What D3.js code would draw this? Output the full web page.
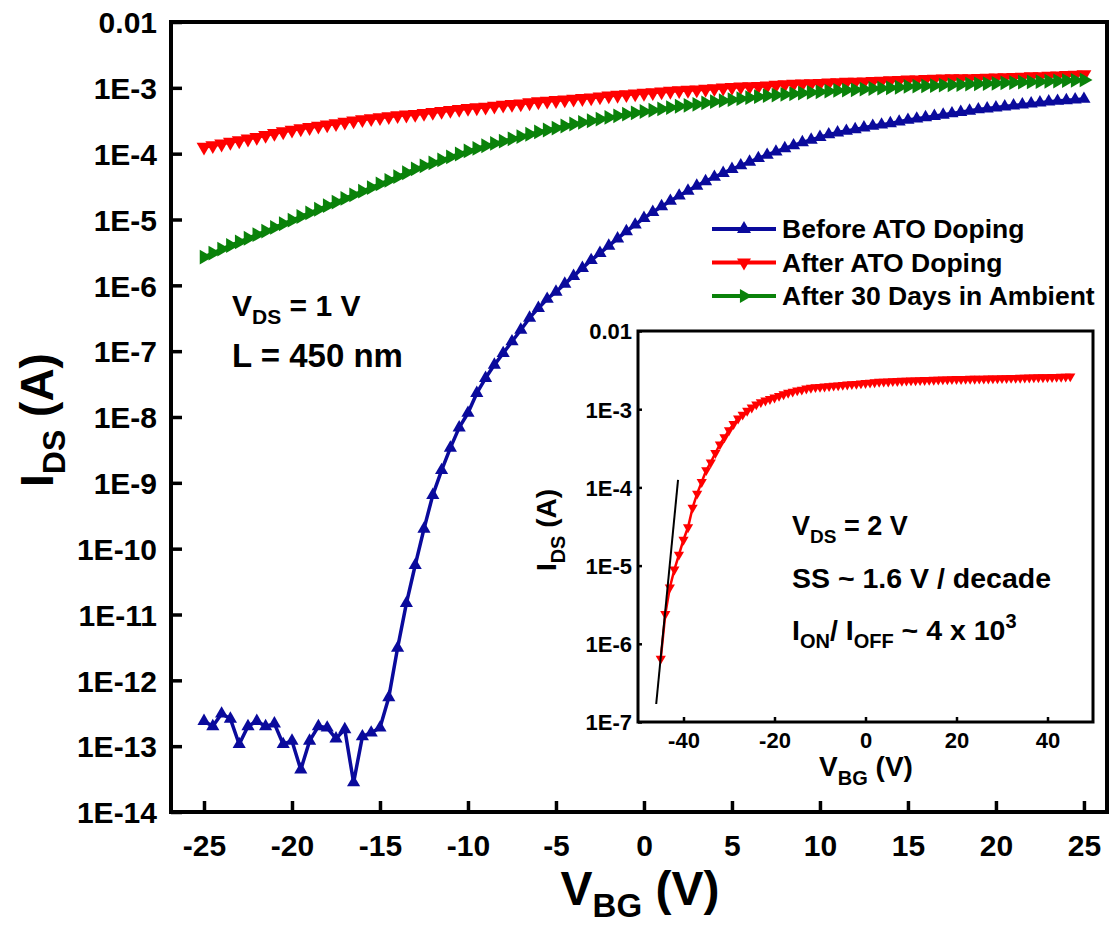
<!DOCTYPE html>
<html>
<head>
<meta charset="utf-8">
<script src="https://cdn.jsdelivr.net/npm/d3@7"></script>
<style>
  body { margin: 0; background: #fff; }
  svg { display: block; }
  text { font-family: "Liberation Sans", Arial, Helvetica, sans-serif; font-weight: bold; fill: #000; }
</style>
</head>
<body>
<svg id="chart" width="1114" height="927"></svg>
<script>
// Transfer curves, V_DS = 1 V, L = 450 nm. Gate sweep -25 V .. 25 V in 0.5 V steps.
const sweepStart = -25;
const sweepStep = 0.5;

// I_DS (A) before ATO doping
const beforeATO = [
  2.4e-13, 2.0e-13, 3.1e-13, 2.6e-13, 1.07e-13, 2.0e-13, 2.4e-13, 2.0e-13, 2.2e-13, 1.07e-13,
  1.2e-13, 4.4e-14, 1.2e-13, 2.0e-13, 1.9e-13, 1.3e-13, 1.8e-13, 2.8e-14, 1.4e-13, 1.6e-13,
  1.9e-13, 5.5e-13, 3.1e-12, 1.48e-11, 5.6e-11, 2.0e-10, 6.5e-10, 1.55e-9, 3.4e-9, 6.9e-9,
  1.15e-8, 2.3e-8, 3.9e-8, 6.2e-8, 9.3e-8, 1.4e-7, 2.1e-7, 3.2e-7, 4.5e-7, 6.2e-7,
  7.94e-7, 1.05e-6, 1.38e-6, 1.82e-6, 2.40e-6, 3.09e-6, 3.98e-6, 5.13e-6, 6.61e-6, 8.32e-6,
  1.05e-5, 1.29e-5, 1.58e-5, 1.91e-5, 2.29e-5, 2.72e-5, 3.24e-5, 3.80e-5, 4.42e-5, 5.07e-5,
  5.82e-5, 6.61e-5, 7.50e-5, 8.51e-5, 9.55e-5, 1.07e-4, 1.20e-4, 1.33e-4, 1.48e-4, 1.62e-4,
  1.78e-4, 1.95e-4, 2.09e-4, 2.21e-4, 2.34e-4, 2.48e-4, 2.63e-4, 2.75e-4, 2.88e-4, 3.05e-4,
  3.24e-4, 3.39e-4, 3.55e-4, 3.72e-4, 3.89e-4, 4.07e-4, 4.27e-4, 4.47e-4, 4.68e-4, 4.84e-4,
  5.01e-4, 5.19e-4, 5.37e-4, 5.56e-4, 5.75e-4, 5.96e-4, 6.17e-4, 6.31e-4, 6.46e-4, 6.61e-4,
  6.76e-4
];

// I_DS (A) after ATO doping
const afterATO = [
  1.26e-4, 1.33e-4, 1.41e-4, 1.50e-4, 1.58e-4, 1.68e-4, 1.78e-4, 1.91e-4, 2.04e-4, 2.16e-4,
  2.29e-4, 2.40e-4, 2.51e-4, 2.63e-4, 2.75e-4, 2.88e-4, 3.02e-4, 3.16e-4, 3.31e-4, 3.43e-4,
  3.55e-4, 3.67e-4, 3.80e-4, 3.89e-4, 3.98e-4, 4.12e-4, 4.27e-4, 4.42e-4, 4.57e-4, 4.73e-4,
  4.90e-4, 5.01e-4, 5.13e-4, 5.31e-4, 5.50e-4, 5.62e-4, 5.75e-4, 5.96e-4, 6.17e-4, 6.31e-4,
  6.46e-4, 6.61e-4, 6.76e-4, 6.92e-4, 7.08e-4, 7.33e-4, 7.59e-4, 7.76e-4, 7.94e-4, 8.13e-4,
  8.32e-4, 8.51e-4, 8.71e-4, 8.91e-4, 9.12e-4, 9.23e-4, 9.33e-4, 9.55e-4, 9.77e-4, 1.00e-3,
  1.02e-3, 1.04e-3, 1.05e-3, 1.06e-3, 1.07e-3, 1.10e-3, 1.12e-3, 1.14e-3, 1.15e-3, 1.16e-3,
  1.17e-3, 1.19e-3, 1.20e-3, 1.22e-3, 1.23e-3, 1.24e-3, 1.26e-3, 1.27e-3, 1.29e-3, 1.30e-3,
  1.32e-3, 1.33e-3, 1.35e-3, 1.36e-3, 1.37e-3, 1.38e-3, 1.38e-3, 1.39e-3, 1.40e-3, 1.41e-3,
  1.42e-3, 1.43e-3, 1.45e-3, 1.46e-3, 1.48e-3, 1.49e-3, 1.51e-3, 1.53e-3, 1.55e-3, 1.57e-3,
  1.59e-3
];

// I_DS (A) after 30 days in ambient
const after30Days = [
  2.69e-6, 3.09e-6, 3.55e-6, 4.03e-6, 4.57e-6, 5.19e-6, 5.89e-6, 6.68e-6, 7.59e-6, 8.61e-6,
  9.77e-6, 1.11e-5, 1.26e-5, 1.43e-5, 1.62e-5, 1.84e-5, 2.09e-5, 2.37e-5, 2.69e-5, 3.05e-5,
  3.47e-5, 3.94e-5, 4.47e-5, 5.13e-5, 5.89e-5, 6.53e-5, 7.24e-5, 8.04e-5, 8.91e-5, 9.89e-5,
  1.10e-4, 1.20e-4, 1.32e-4, 1.43e-4, 1.55e-4, 1.68e-4, 1.82e-4, 1.97e-4, 2.14e-4, 2.29e-4,
  2.45e-4, 2.63e-4, 2.82e-4, 2.99e-4, 3.16e-4, 3.35e-4, 3.55e-4, 3.76e-4, 3.98e-4, 4.17e-4,
  4.37e-4, 4.57e-4, 4.79e-4, 5.01e-4, 5.25e-4, 5.43e-4, 5.62e-4, 5.89e-4, 6.17e-4, 6.38e-4,
  6.61e-4, 6.84e-4, 7.08e-4, 7.33e-4, 7.59e-4, 7.76e-4, 7.94e-4, 8.13e-4, 8.32e-4, 8.51e-4,
  8.71e-4, 8.91e-4, 9.12e-4, 9.23e-4, 9.33e-4, 9.55e-4, 9.77e-4, 9.89e-4, 1.00e-3, 1.02e-3,
  1.05e-3, 1.06e-3, 1.07e-3, 1.08e-3, 1.10e-3, 1.11e-3, 1.12e-3, 1.14e-3, 1.15e-3, 1.16e-3,
  1.17e-3, 1.19e-3, 1.20e-3, 1.22e-3, 1.23e-3, 1.24e-3, 1.26e-3, 1.27e-3, 1.29e-3, 1.30e-3,
  1.32e-3
];

// Inset: after ATO doping, V_DS = 2 V, gate sweep -45 V .. 45 V in 1 V steps
const insetStart = -45;
const insetStep = 1;
const insetAfterATO = [
  6.46e-7, 2.40e-6, 5.25e-6, 8.91e-6, 1.38e-5, 2.14e-5, 3.09e-5, 5.50e-5, 8.32e-5, 1.17e-4,
  1.66e-4, 2.09e-4, 2.75e-4, 3.55e-4, 4.37e-4, 5.37e-4, 6.46e-4, 7.59e-4, 8.51e-4, 9.55e-4,
  1.05e-3, 1.15e-3, 1.23e-3, 1.29e-3, 1.35e-3, 1.41e-3, 1.48e-3, 1.55e-3, 1.62e-3, 1.68e-3,
  1.74e-3, 1.78e-3, 1.84e-3, 1.88e-3, 1.91e-3, 1.93e-3, 1.95e-3, 1.97e-3, 2.00e-3, 2.02e-3,
  2.04e-3, 2.07e-3, 2.09e-3, 2.11e-3, 2.14e-3, 2.16e-3, 2.19e-3, 2.21e-3, 2.24e-3, 2.25e-3,
  2.26e-3, 2.28e-3, 2.29e-3, 2.31e-3, 2.32e-3, 2.33e-3, 2.34e-3, 2.35e-3, 2.36e-3, 2.37e-3,
  2.38e-3, 2.39e-3, 2.40e-3, 2.41e-3, 2.42e-3, 2.43e-3, 2.43e-3, 2.44e-3, 2.45e-3, 2.45e-3,
  2.46e-3, 2.46e-3, 2.47e-3, 2.48e-3, 2.48e-3, 2.49e-3, 2.50e-3, 2.51e-3, 2.51e-3, 2.52e-3,
  2.53e-3, 2.54e-3, 2.55e-3, 2.56e-3, 2.56e-3, 2.57e-3, 2.58e-3, 2.59e-3, 2.60e-3, 2.61e-3,
  2.63e-3
];

// Subthreshold-swing fit line drawn over the inset (V, A)
const ssFitV = [-46, -41.2];
const ssFitI = [1.7e-7, 1.25e-4];

// Axis ticks
const mainXTicks = [-25, -20, -15, -10, -5, 0, 5, 10, 15, 20, 25];
const mainYTicks = [1e-2, 1e-3, 1e-4, 1e-5, 1e-6, 1e-7, 1e-8, 1e-9, 1e-10, 1e-11, 1e-12, 1e-13, 1e-14];
const mainYLabels = ["0.01", "1E-3", "1E-4", "1E-5", "1E-6", "1E-7", "1E-8", "1E-9", "1E-10", "1E-11", "1E-12", "1E-13", "1E-14"];
const insetXTicks = [-40, -20, 0, 20, 40];
const insetYTicks = [1e-2, 1e-3, 1e-4, 1e-5, 1e-6, 1e-7];
const insetYLabels = ["0.01", "1E-3", "1E-4", "1E-5", "1E-6", "1E-7"];

const seriesNames = ["Before ATO Doping", "After ATO Doping", "After 30 Days in Ambient"];
const seriesColors = ["#0a0a9c", "#ff0000", "#0a820a"];
const seriesRotation = [0, 180, 90]; // triangle up, down, right
const seriesMarkerSize = [75, 95, 95];

const svg = d3.select("#chart");
const FONT = "'Liberation Sans', Arial, sans-serif";
const plainNumber = d => String(d); // hyphen-minus, as on the printed axes

// ---------- main panel ----------
const x = d3.scaleLinear().domain([-26.875, 26.31]).range([171, 1107]);
const y = d3.scaleLog().domain([1e-14, 1e-2]).range([812, 22]);

const toPoints = (vals, start, step) => vals.map((v, i) => ({ v: start + i * step, i: v }));
const mainSeries = [beforeATO, afterATO, after30Days].map(vals => toPoints(vals, sweepStart, sweepStep));

const tri = d3.symbol().type(d3.symbolTriangle);

const xAxis = d3.axisBottom(x).tickValues(mainXTicks).tickSize(0).tickFormat(plainNumber);
const gx = svg.append("g").attr("transform", "translate(0,812)").call(xAxis);
gx.select(".domain").remove();
gx.selectAll(".tick text").attr("dy", null).attr("y", 44).style("font-size", "30px").style("font-weight", "bold")
  .style("font-family", FONT);
gx.selectAll(".tick").append("line").attr("y1", 0).attr("y2", -11).attr("stroke", "#000").attr("stroke-width", 3.5);

const yAxis = d3.axisLeft(y).tickValues(mainYTicks).tickSize(0).tickFormat((d, i) => mainYLabels[i]);
const gy = svg.append("g").attr("transform", "translate(171,0)").call(yAxis);
gy.select(".domain").remove();
gy.selectAll(".tick text").attr("x", -14).attr("dy", "0.36em").style("font-size", "30px").style("font-weight", "bold")
  .style("font-family", FONT);
gy.selectAll(".tick").append("line").attr("x1", 0).attr("x2", 11).attr("stroke", "#000").attr("stroke-width", 3.5);

// curves
const line = d3.line().x(d => x(d.v)).y(d => y(d.i));
mainSeries.forEach((pts, k) => {
  const g = svg.append("g");
  g.append("path").datum(pts).attr("d", line).attr("fill", "none")
    .attr("stroke", seriesColors[k]).attr("stroke-width", 3.5).attr("stroke-linejoin", "round");
  g.selectAll("path.m").data(pts).enter().append("path").attr("class", "m")
    .attr("d", tri.size(seriesMarkerSize[k]))
    .attr("transform", d => `translate(${x(d.v)},${y(d.i)}) rotate(${seriesRotation[k]})`)
    .attr("fill", seriesColors[k]);
});

// frame
svg.append("rect").attr("x", 171).attr("y", 22).attr("width", 936).attr("height", 790)
  .attr("fill", "none").attr("stroke", "#000").attr("stroke-width", 4);

// axis titles
const xt = svg.append("text").attr("x", 640).attr("y", 905).attr("text-anchor", "middle").style("font-size", "48px");
xt.append("tspan").text("V");
xt.append("tspan").attr("dy", 12).style("font-size", "33px").text("BG");
xt.append("tspan").attr("dy", -12).text(" (V)");

const yt = svg.append("text").attr("transform", "translate(53,420) rotate(-90)").attr("text-anchor", "middle").style("font-size", "46px");
yt.append("tspan").text("I");
yt.append("tspan").attr("dy", 12).style("font-size", "32px").text("DS");
yt.append("tspan").attr("dy", -12).text(" (A)");

// annotations
const a1 = svg.append("text").attr("x", 232).attr("y", 316).style("font-size", "30px");
a1.append("tspan").text("V");
a1.append("tspan").attr("dy", 8).style("font-size", "21px").text("DS");
a1.append("tspan").attr("dy", -8).text(" = 1 V");
svg.append("text").attr("x", 232).attr("y", 367).style("font-size", "33px").text("L = 450 nm");

// legend
seriesNames.forEach((name, k) => {
  const ly = 229 + k * 33.5;
  const g = svg.append("g");
  g.append("line").attr("x1", 712).attr("x2", 776).attr("y1", ly).attr("y2", ly)
    .attr("stroke", seriesColors[k]).attr("stroke-width", 4);
  g.append("path").attr("d", tri.size(85))
    .attr("transform", `translate(744,${ly}) rotate(${seriesRotation[k]})`).attr("fill", seriesColors[k]);
  g.append("text").attr("x", 782).attr("y", ly + 9).style("font-size", "26.5px").text(name);
});

// ---------- inset ----------
const ix = d3.scaleLinear().domain([-50, 50]).range([638, 1093]);
const iy = d3.scaleLog().domain([1e-7, 1e-2]).range([722, 331]);

svg.append("rect").attr("x", 638).attr("y", 331).attr("width", 455).attr("height", 391)
  .attr("fill", "#fff").attr("stroke", "none");

const ixAxis = d3.axisBottom(ix).tickValues(insetXTicks).tickSize(0).tickFormat(plainNumber);
const gix = svg.append("g").attr("transform", "translate(0,722)").call(ixAxis);
gix.select(".domain").remove();
gix.selectAll(".tick text").attr("dy", null).attr("y", 26).style("font-size", "22px").style("font-weight", "bold")
  .style("font-family", FONT);
gix.selectAll(".tick").append("line").attr("y1", 0).attr("y2", -5).attr("stroke", "#000").attr("stroke-width", 2.5);

const iyAxis = d3.axisLeft(iy).tickValues(insetYTicks).tickSize(0).tickFormat((d, i) => insetYLabels[i]);
const giy = svg.append("g").attr("transform", "translate(638,0)").call(iyAxis);
giy.select(".domain").remove();
giy.selectAll(".tick text").attr("x", -6).attr("dy", "0.36em").style("font-size", "22px").style("font-weight", "bold")
  .style("font-family", FONT);
giy.selectAll(".tick").append("line").attr("x1", 0).attr("x2", 4).attr("stroke", "#000").attr("stroke-width", 2.5);

const insetPts = toPoints(insetAfterATO, insetStart, insetStep);
const iline = d3.line().x(d => ix(d.v)).y(d => iy(d.i));
svg.append("path").datum(insetPts).attr("d", iline).attr("fill", "none")
  .attr("stroke", "#ff0000").attr("stroke-width", 2.5);
svg.append("g").selectAll("path").data(insetPts).enter().append("path")
  .attr("d", tri.size(45))
  .attr("transform", d => `translate(${ix(d.v)},${iy(d.i)}) rotate(180)`)
  .attr("fill", "#ff0000");

// SS fit line
svg.append("line")
  .attr("x1", ix(ssFitV[0])).attr("y1", iy(ssFitI[0]))
  .attr("x2", ix(ssFitV[1])).attr("y2", iy(ssFitI[1]))
  .attr("stroke", "#000").attr("stroke-width", 2);

svg.append("rect").attr("x", 638).attr("y", 331).attr("width", 455).attr("height", 391)
  .attr("fill", "none").attr("stroke", "#000").attr("stroke-width", 3);

// inset axis titles
const ixt = svg.append("text").attr("x", 866).attr("y", 776).attr("text-anchor", "middle").style("font-size", "28px");
ixt.append("tspan").text("V");
ixt.append("tspan").attr("dy", 9).style("font-size", "20px").text("BG");
ixt.append("tspan").attr("dy", -9).text(" (V)");

const iyt = svg.append("g").attr("transform", "translate(556,530) rotate(-90)")
  .append("text").attr("text-anchor", "middle").style("font-size", "28px");
iyt.append("tspan").text("I");
iyt.append("tspan").attr("dy", 9).style("font-size", "20px").text("DS");
iyt.append("tspan").attr("dy", -9).text(" (A)");

// inset annotations
const b1 = svg.append("text").attr("x", 792).attr("y", 535).style("font-size", "27px");
b1.append("tspan").text("V");
b1.append("tspan").attr("dy", 8).style("font-size", "19px").text("DS");
b1.append("tspan").attr("dy", -8).text(" = 2 V");
svg.append("text").attr("x", 792).attr("y", 588).style("font-size", "28.5px").text("SS ~ 1.6 V / decade");
const b3 = svg.append("text").attr("x", 792).attr("y", 640).style("font-size", "28.5px");
b3.append("tspan").text("I");
b3.append("tspan").attr("dy", 8).style("font-size", "20px").text("ON");
b3.append("tspan").attr("dy", -8).text("/ I");
b3.append("tspan").attr("dy", 8).style("font-size", "20px").text("OFF");
b3.append("tspan").attr("dy", -8).text(" ~ 4 x 10");
b3.append("tspan").attr("dy", -12).style("font-size", "20px").text("3");
</script>
</body>
</html>
